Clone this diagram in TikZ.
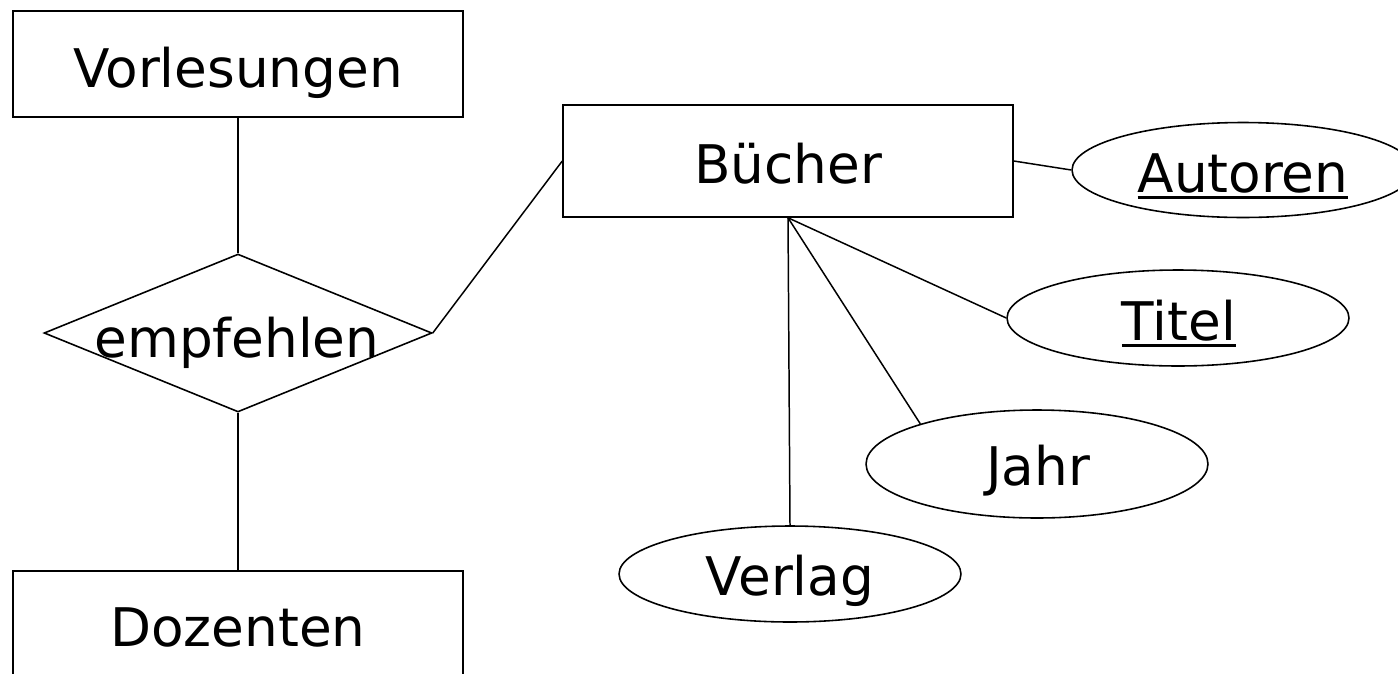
\documentclass[tikz,border=0pt]{standalone}
\usepackage{fontspec}
\setmainfont{DejaVu Sans}
\usetikzlibrary{shapes.geometric}
\newcommand\ulword[1]{\setbox0\hbox{#1}\rlap{\rule[-0.13cm]{\wd0}{0.06cm}}\box0}
\tikzset{
  ent/.style={draw, rectangle, line width=0.9pt, minimum width=9cm, inner sep=0pt},
  rel/.style={draw, diamond, line width=0.9pt, minimum width=7.76cm, minimum height=3.16cm, inner sep=0pt},
  attr/.style={draw, ellipse, line width=0.9pt, minimum width=6.84cm, inner sep=0pt},
  lbl/.style={anchor=base, inner sep=0pt, font=\fontsize{30.3pt}{36pt}\selectfont},
  conn/.style={line width=0.85pt}
}
\begin{document}
\begin{tikzpicture}[x=0.02cm, y=-0.02cm]
\clip (0,0) rectangle (1398,673);
\fill[white] (0,0) rectangle (1398,673);
% entities
\node[ent, minimum height=2.12cm] (vorl) at (238,64) {};
\node[ent, minimum height=2.2cm] (doz) at (238,626) {};
\node[ent, minimum height=2.24cm] (buch) at (788,161) {};
% relationship
\node[rel] (empf) at (238,333) {};
% attributes
\node[attr, minimum height=1.9cm] (autoren) at (1243,170) {};
\node[attr, minimum height=1.92cm] (titel) at (1178,318) {};
\node[attr, minimum height=2.16cm] (jahr) at (1037,464) {};
\node[attr, minimum height=1.92cm] (verlag) at (790,574) {};
% labels
\node[lbl] (tvorl) at (238,87) {Vorlesungen};
\node[lbl] (tdoz) at (238,646) {Dozenten};
\node[lbl] (tbuch) at (788,183) {Bücher};
\node[lbl] (tempf) at (237,357) {empfehlen};
\node[lbl] (taut) at (1243,192) {\ulword{Autoren}};
\node[lbl] (ttit) at (1179,340) {\ulword{Titel}};
\node[lbl] (tjahr) at (1038,485) {Jahr};
\node[lbl] (tverl) at (790,595) {Verlag};
% connectors
\draw[conn] (vorl.south) -- (empf.north);
\draw[conn] (empf.south) -- (doz.north);
\draw[conn] (empf.east) -- (buch.west);
\draw[conn] (buch.east) -- (autoren.west);
\draw[conn] (buch.south) -- (titel.west);
\draw[conn] (buch.south) -- (jahr.161);
\draw[conn] (buch.south) -- (verlag.north);
\end{tikzpicture}
\end{document}
